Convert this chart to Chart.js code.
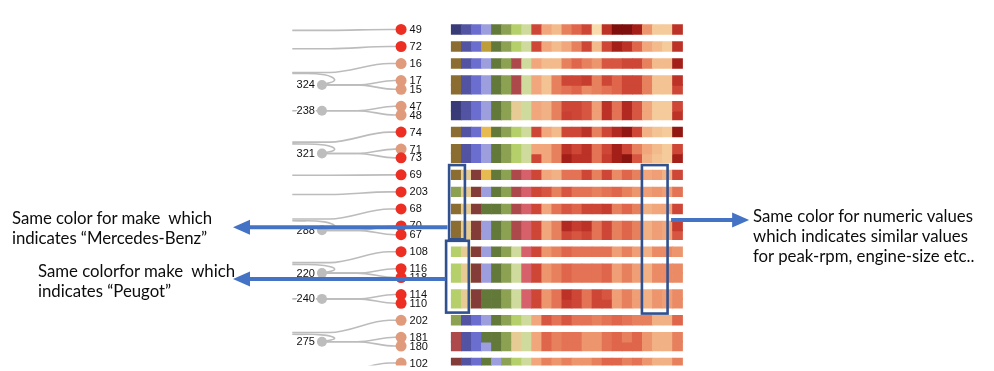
<!DOCTYPE html>
<html>
<head>
<meta charset="utf-8">
<script src="https://cdn.jsdelivr.net/npm/chart.js@4.4.1/dist/chart.umd.min.js"></script>
<style>
  html, body { margin:0; padding:0; background:#fff; }
  #wrap { position:relative; width:994px; height:371px; overflow:hidden; }
  #chart { position:absolute; left:0; top:0; }
  #notes { position:absolute; left:0; top:0; pointer-events:none; }
  #notes text { white-space: pre; }
</style>
</head>
<body>
<div id="wrap">
  <canvas id="chart" width="994" height="371"></canvas>
  <svg id="notes" width="994" height="371" font-family="Lato, 'Open Sans', sans-serif" fill="#0c0c0c">
    <g data-w="200" font-size="16.8">
      <text x="12" y="224">Same color for make  which</text>
      <text x="12" y="243.5">indicates “Mercedes-Benz”</text>
    </g>
    <g data-w="197" font-size="16.8">
      <text x="38" y="277">Same colorfor make  which</text>
      <text x="38" y="296.5">indicates “Peugot”</text>
    </g>
    <g data-w="220" font-size="16.8">
      <text x="753" y="222">Same color for numeric values</text>
      <text x="753" y="242">which indicates similar values</text>
      <text x="753" y="262">for peak-rpm, engine-size etc..</text>
    </g>
  </svg>
</div>
<script>
// ---------------- DATA ----------------
// leaf clusters, top to bottom (leaf ids = car record ids)
const clusterLeaves = [[49],[72],[16],[17,15],[47,48],[74],[71,73],[69],[203],[68],[70,67],[108],[116,118],[114,110],[202],[181,180],[102]];
// id of the visible internal node joining each cluster (null = single leaf)
const clusterIds = [null,null,null,324,238,null,321,null,null,null,288,null,220,240,null,275,null];
// row position of the (cropped) ancestor each cluster hangs from
const parentRows = [0.1,2.2,4.92,5.03,9.3,12.9,13.1,16.7,18.9,21.7,21.9,26.7,26.9,30.85,34.7,34.9,39.6];
// leaves drawn in the light (salmon) class
const lightLeaves = [16,17,15,47,48,71,202,181,180,102];

// categorical attributes (8 columns), one palette letter per cell
const catRows = {
  49:"ABCDEFGH", 72:"IBCJEFGH", 16:"IBCDEFNH", 17:"IBCDEFNH", 15:"IBCDEFNH",
  47:"ABCDEFLH", 48:"ABCDEFLH", 74:"IBCKEFGH", 71:"IBCDEFGH", 73:"IBCDEFGH",
  69:"ILMKEFNO", 203:"FLMDEFNO", 68:"ILMEEFNO", 70:"ILMDEFNO", 67:"ILMDEFNO",
  108:"GLMDEFHO", 116:"GLMDEFHO", 118:"GLMDEFHO", 114:"GLMEEFHO", 110:"GLMEEFHO",
  202:"FBCDEFGH", 181:"NBCEEFLH", 180:"NBCDEFLH", 102:"MBCEDFGH"
};
// numeric attributes (15 columns), level 0 (low) .. 10 (high)
const numRows = {
  49:[7,3,2,5,6,7,0,8,10,10,9,4,1,1,8],
  72:[7,3,2,3,5,7,2,7,9,8,6,3,2,1,8],
  16:[3,2,2,5,6,5,4,6.5,6.5,7,7,5,2,2,9],
  17:[3,1.5,5,7,7,7.5,5,7,6,7,7,5,1.5,1.5,8],
  15:[3,1.5,5,5.5,6,4.5,5,5.5,6,7,7,5,1.5,1.5,7],
  47:[3,2.5,5,7,7,6.5,3.5,8,5.5,8.5,6.5,3,1,1,7],
  48:[3,2.5,5,7.3,7,6.5,3.5,8,5.5,8.5,6.5,3,1,1,8],
  74:[7,3,2,7,7,8,5,7,8.5,9.5,7,2.5,1.5,1,9.5],
  71:[3,3,5,8,7,8,5.5,7,9,7,5,3,2,1,7],
  73:[7,3,5,9,8,8,5.5,7.5,9,9.7,6.5,2.5,1.5,1,9],
  69:[7,3,2.5,5.5,5.5,7,5,7,4.5,6,5,3,3.5,2.5,7],
  203:[7,6.5,5,6.5,5.5,5.5,5,5.5,6,5,4,3.5,4,3.5,5.5],
  68:[7,3,5.5,6.5,6,7,7,7.5,5,6,5,2.5,3,3,7],
  70:[7,3,5,8.5,7.5,8,5.5,7,5,6,5,2.5,3.5,3,7.5],
  67:[7,3,5,7,6.5,7,5.5,7,5,6,5,2.5,3.5,3,6.5],
  108:[7,4,5,6,5.5,5.5,5.5,5.5,3.5,5,3.5,2.5,4.5,4.5,4],
  116:[7,4,5,6,5.5,5.5,5.5,6,3.5,5,3.5,2.5,4.5,4.5,4.5],
  118:[7,4,5,6,5.5,5.5,5.5,6,3.5,5,3.5,2.5,4.5,4.5,4.5],
  114:[7,4,5.5,8,7,5.5,7,6.5,3.5,5,3.5,2.5,4,3.5,4.5],
  110:[7,4,5.5,7.5,7,5.5,7,7,3.5,5,3.5,2.5,4,3.5,4.5],
  202:[3,6.5,5.5,6.5,5.5,5.5,5,5.5,6,5.5,5,5,2.5,2.5,6],
  181:[3,6,5,5.5,5.5,4,4,5.5,6,5,6,4,2.5,2.5,5],
  180:[3,6,5,5.5,5.5,4,4,5.5,6,6,6,4,2.5,2.5,5],
  102:[3,5,4,5,4,4,5,6,6,5,5.5,4,2.5,2.5,5]
};

// ---------------- STYLE ----------------
const CAT_PALETTE = {A:'#393b79',B:'#5254a3',C:'#6b6ecf',D:'#9c9ede',E:'#637939',F:'#8ca252',G:'#b5cf6b',H:'#cedb9c',
  I:'#8c6d31',J:'#bd9e39',K:'#e7ba52',L:'#e7cb94',M:'#843c39',N:'#ad494a',O:'#d6616b',P:'#e7969c'};
const RAMP = ['#f8dcae','#f5cb9b','#f3bb8c','#f1a67b','#ed966e','#e7805d','#df654b','#ce4636','#bd3227','#a41f18','#7f0f0c'];
function hex2rgb(h){ return [1,3,5].map(i=>parseInt(h.substr(i,2),16)); }
function levelColor(v){
  const i = Math.max(0, Math.min(RAMP.length-2, Math.floor(v)));
  const t = Math.min(1, v - i);
  const a = hex2rgb(RAMP[i]), b = hex2rgb(RAMP[i+1]);
  return 'rgb(' + a.map((c,k)=>Math.round(c + (b[k]-c)*t)).join(',') + ')';
}
const LEAF_RED = '#ec2f22', LEAF_LIGHT = '#e09a7c', NODE_GRAY = '#bdbdbd', LINK_GRAY = '#bcbcbc';
const WITHIN = 1, BETWEEN = 1.95, HALF = 0.56;     // row layout
const D_LEAF = 0, D_NODE = -1, D_EDGE = -1.375;     // depth layout

// row layout from cluster structure
const leafIds = [], rowOf = {};
let r = 0;
clusterLeaves.forEach((g, gi) => g.forEach((id, k) => {
  if (gi > 0 || k > 0) r += (k === 0 ? BETWEEN : WITHIN);
  rowOf[id] = r; leafIds.push(id);
}));

// ---------------- DATASETS ----------------
const datasets = [];
leafIds.forEach(id => {
  const colors = catRows[id].split('').map(c => CAT_PALETTE[c]).concat(numRows[id].map(levelColor));
  datasets.push({
    type: 'bar', xAxisID: 'xh', yAxisID: 'y', order: 10, grouped: false,
    barPercentage: 1, categoryPercentage: 1, borderWidth: 0,
    data: colors.map((c, i) => ({ x: i, y: [rowOf[id] - HALF, rowOf[id] + HALF] })),
    backgroundColor: colors
  });
});

function sLink(x0, y0, x1, y1, a, b) {
  return { type:'scatter', xAxisID:'xd', yAxisID:'y', order:5, showLine:true, pointRadius:0,
    borderColor: LINK_GRAY, borderWidth:1.6, cubicInterpolationMode:'monotone',
    data:[{x:x0,y:y0},{x:x0+(x1-x0)*a,y:y0},{x:x0+(x1-x0)*b,y:y1},{x:x1,y:y1}] };
}
function loopLink(ys, yn) {
  const dy = yn - ys;
  return { type:'scatter', xAxisID:'xd', yAxisID:'y', order:5, showLine:true, pointRadius:0,
    borderColor: LINK_GRAY, borderWidth:1.6, tension:0.45,
    data:[{x:D_EDGE,y:ys},{x:-0.97,y:ys+0.12*dy},{x:-0.84,y:ys+0.58*dy},{x:D_NODE,y:yn}] };
}
const nodePts = [], nodeLabels = [];
clusterLeaves.forEach((g, gi) => {
  const ys = parentRows[gi];
  if (clusterIds[gi] === null) {
    datasets.push(sLink(D_EDGE, ys, D_LEAF, rowOf[g[0]], 0.345, 0.89));
  } else {
    const yn = g.reduce((s, id) => s + rowOf[id], 0) / g.length;
    nodePts.push({ x: D_NODE, y: yn }); nodeLabels.push(clusterIds[gi]);
    if (Math.abs(ys - yn) < 0.05) datasets.push(sLink(D_EDGE, yn, D_NODE, yn, 0.3, 0.7));
    else datasets.push(loopLink(ys, yn));
    g.forEach(id => datasets.push(sLink(D_NODE, yn, D_LEAF, rowOf[id], 0.45, 0.92)));
  }
});
const LEAF_DS = datasets.length;
datasets.push({ type:'scatter', xAxisID:'xd', yAxisID:'y', order:1, pointRadius:5.5, borderWidth:0,
  pointBackgroundColor: leafIds.map(id => lightLeaves.includes(id) ? LEAF_LIGHT : LEAF_RED),
  data: leafIds.map(id => ({ x: D_LEAF, y: rowOf[id] })) });
const NODE_DS = datasets.length;
datasets.push({ type:'scatter', xAxisID:'xd', yAxisID:'y', order:1, pointRadius:5, borderWidth:0,
  pointBackgroundColor: NODE_GRAY, data: nodePts });

// annotation overlays (column / row units)
const annotationBoxes = [
  { c0:-0.71, c1:0.86, r0:15.53, r1:24.03 },
  { c0:-1.01, c1:1.25, r0:24.2, r1:32.42 },
  { c0:18.46, c1:21.01, r0:15.53, r1:32.53 }
];
const annotationArrows = [
  { c0:-0.87, c1:-22.2, r:22.64 },
  { c0:-1.06, c1:-22.2, r:28.56 },
  { c0:21.36, c1:29.12, r:21.81 }
];

// ---------------- PLUGINS ----------------
const labelPlugin = {
  id: 'nodeLabels',
  afterDatasetsDraw(chart) {
    const ctx = chart.ctx;
    ctx.save();
    ctx.font = '11px "Liberation Sans", Arial, sans-serif';
    ctx.textBaseline = 'middle';
    ctx.fillStyle = '#111';
    chart.getDatasetMeta(LEAF_DS).data.forEach((el, i) => {
      ctx.textAlign = 'left';
      ctx.fillText(String(leafIds[i]), el.x + 8.5, el.y + 0.5);
    });
    chart.getDatasetMeta(NODE_DS).data.forEach((el, i) => {
      ctx.textAlign = 'right';
      ctx.lineWidth = 3; ctx.strokeStyle = '#fff'; ctx.lineJoin = 'round';
      ctx.strokeText(String(nodeLabels[i]), el.x - 7, el.y + 0.5);
      ctx.fillText(String(nodeLabels[i]), el.x - 7, el.y + 0.5);
    });
    ctx.restore();
  }
};
const annoPlugin = {
  id: 'annotations',
  afterDraw(chart) {
    const { ctx } = chart, xh = chart.scales.xh, y = chart.scales.y;
    ctx.save();
    ctx.strokeStyle = '#30508e'; ctx.lineWidth = 2.6;
    annotationBoxes.forEach(b => {
      const x0 = xh.getPixelForValue(b.c0), x1 = xh.getPixelForValue(b.c1);
      const y0 = y.getPixelForValue(b.r0), y1 = y.getPixelForValue(b.r1);
      ctx.strokeRect(x0, y0, x1 - x0, y1 - y0);
    });
    ctx.fillStyle = '#4472c4'; ctx.strokeStyle = '#4472c4';
    annotationArrows.forEach(a => {
      const x0 = xh.getPixelForValue(a.c0), x1 = xh.getPixelForValue(a.c1), yy = y.getPixelForValue(a.r);
      const dir = Math.sign(x1 - x0), HL = 17, HW = 7.5;
      ctx.lineWidth = 4;
      ctx.beginPath(); ctx.moveTo(x0, yy); ctx.lineTo(x1 - dir * (HL - 1), yy); ctx.stroke();
      ctx.beginPath(); ctx.moveTo(x1, yy); ctx.lineTo(x1 - dir * HL, yy - HW); ctx.lineTo(x1 - dir * HL, yy + HW); ctx.closePath(); ctx.fill();
    });
    ctx.restore();
  }
};

// ---------------- CHART ----------------
const Y_MIN = -2.7444, Y_MAX = 38.4778;
new Chart(document.getElementById('chart').getContext('2d'), {
  type: 'bar',
  data: { datasets },
  options: {
    responsive: false, animation: false, devicePixelRatio: 1, events: [],
    layout: { padding: 0 },
    plugins: { legend: { display: false }, tooltip: { enabled: false } },
    scales: {
      xh: { type:'linear', axis:'x', display:false, offset:false, min:-44.818, max:52.920, grid:{offset:false} },
      xd: { type:'linear', axis:'x', display:false, offset:false, min:-5, max:7.425 },
      y:  { type:'linear', axis:'y', display:false, reverse:true, min:Y_MIN, max:Y_MAX, beginAtZero:false }
    }
  },
  plugins: [labelPlugin, annoPlugin]
});

// fit annotation text widths with letter spacing (keeps cap height of the original)
document.querySelectorAll('#notes g').forEach(g => {
  const first = g.querySelector('text');
  const len = first.getComputedTextLength();
  const target = parseFloat(g.dataset.w);
  const n = first.textContent.length;
  if (len > 0) g.setAttribute('letter-spacing', ((target - len) / n).toFixed(3));
});
</script>
</body>
</html>
